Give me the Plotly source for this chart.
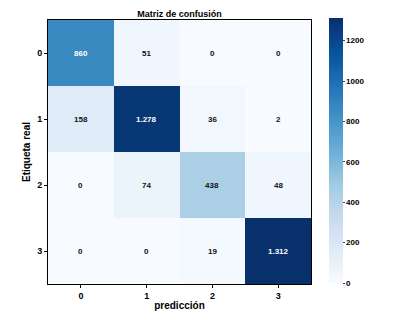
import plotly.graph_objects as go

labels = ["0", "1", "2", "3"]
matrix = [
    [860, 51, 0, 0],
    [158, 1278, 36, 2],
    [0, 74, 438, 48],
    [0, 0, 19, 1312],
]
cbar_ticks = [0, 200, 400, 600, 800, 1000, 1200]

zmax = max(max(r) for r in matrix)

def fmt(v):
    return f"{v:,}".replace(",", ".")

FONT = "Liberation Sans"

fig = go.Figure(go.Heatmap(
    z=matrix, x=labels, y=labels,
    colorscale="Blues", zmin=0, zmax=zmax,
    colorbar=dict(
        x=(329 - 48) / 263, xanchor="left", xpad=0, ypad=0,
        y=(284 - 150.5) / 264, yanchor="middle", len=265, lenmode="pixels",
        thickness=14, outlinewidth=0,
        tickvals=cbar_ticks, ticks="outside", ticklen=2, tickcolor="#444",
        tickfont=dict(family=FONT, size=8, color="#000", weight="bold"),
    ),
    showscale=True,
))

annotations = []
for i, row in enumerate(matrix):
    for j, v in enumerate(row):
        annotations.append(dict(
            x=labels[j], y=labels[i], text=fmt(v), showarrow=False,
            font=dict(family=FONT, size=8, weight="bold",
                      color="white" if v > zmax * 0.55 else "#111"),
        ))

fig.update_layout(
    width=395, height=321,
    margin=dict(l=48, r=84, t=20, b=37),
    paper_bgcolor="white", plot_bgcolor="white",
    title=dict(text="<b>Matriz de confusión</b>", x=0.5, xref="paper", xanchor="center",
               y=1, yref="paper", yanchor="bottom", pad=dict(b=3),
               font=dict(family=FONT, size=9, color="#000")),
    annotations=annotations,
    xaxis=dict(
        title=dict(text="<b>predicción</b>", font=dict(family=FONT, size=10, color="#000"), standoff=2),
        ticks="outside", ticklen=3, tickcolor="#000",
        tickfont=dict(family=FONT, size=9, color="#000", weight="bold"),
        showline=True, linecolor="#000", linewidth=1, mirror=True, showgrid=False, zeroline=False,
    ),
    yaxis=dict(
        title=dict(text="<b>Etiqueta real</b>", font=dict(family=FONT, size=10, color="#000"), standoff=4),
        autorange="reversed",
        ticks="outside", ticklen=3, tickcolor="#000",
        tickfont=dict(family=FONT, size=9, color="#000", weight="bold"),
        showline=True, linecolor="#000", linewidth=1, mirror=True, showgrid=False, zeroline=False,
    ),
)

fig.write_html("out.html")
